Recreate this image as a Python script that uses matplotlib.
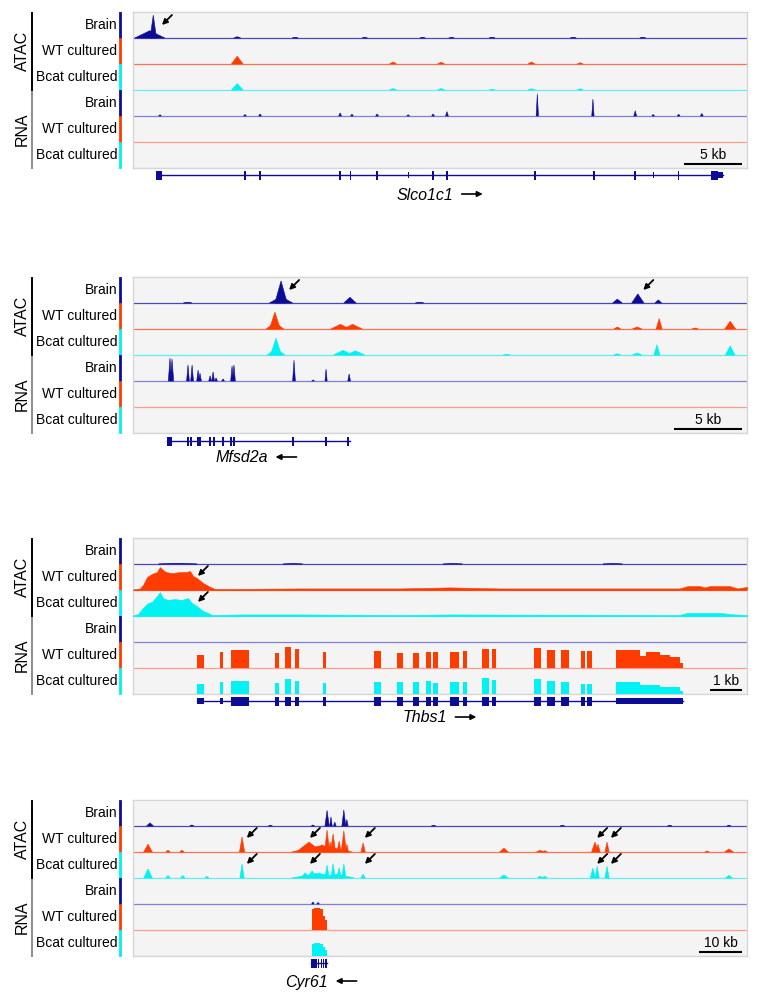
import numpy as np
import matplotlib
matplotlib.use("Agg")
import matplotlib.pyplot as plt
from matplotlib.lines import Line2D
from matplotlib.patches import Rectangle

plt.rcParams['font.family'] = ['Liberation Sans', 'DejaVu Sans']

W, H = 760, 1000

NAVY = '#0c0c96'
RED = '#ff3c00'
CYAN = '#00f2f2'
TRACK_COLORS = [NAVY, RED, CYAN, NAVY, RED, CYAN]
BASE_COLORS = ['#4848b8', '#ff7050', '#60eeee', '#8080dc', '#ff9c88', '#9cf2f2']
TRACK_NAMES = ['Brain', 'WT cultured', 'Bcat cultured', 'Brain', 'WT cultured', 'Bcat cultured']

# peaks are (centre kb, height in track units, half width kb)

# ---- Slco1c1 ----
SLCO_SPAN = 53.0
SLCO_ATAC_BRAIN = [(1.45, 0.28, 1.3), (1.75, 0.88, 0.28), (9.0, 0.05, 0.3), (14.0, 0.02, 0.25),
                   (20.0, 0.03, 0.25), (25.0, 0.03, 0.25), (27.5, 0.03, 0.25), (31.0, 0.02, 0.25),
                   (38.0, 0.02, 0.25), (44.0, 0.02, 0.25)]
SLCO_ATAC_WT = [(9.0, 0.3, 0.5), (22.45, 0.08, 0.3), (26.6, 0.07, 0.3), (34.4, 0.08, 0.3), (38.6, 0.05, 0.25)]
SLCO_ATAC_BCAT = [(9.0, 0.25, 0.5), (22.45, 0.06, 0.3), (26.6, 0.06, 0.3), (31.0, 0.03, 0.25),
                  (34.4, 0.05, 0.3), (38.6, 0.05, 0.25)]
SLCO_RNA_BRAIN = [(2.33, 0.05, 0.12), (9.67, 0.06, 0.12), (10.97, 0.08, 0.12), (17.88, 0.12, 0.12),
                  (18.9, 0.07, 0.12), (21.07, 0.08, 0.12), (23.75, 0.05, 0.12), (25.9, 0.08, 0.12),
                  (27.1, 0.17, 0.12), (34.9, 0.85, 0.1), (39.7, 0.65, 0.1), (43.35, 0.2, 0.12),
                  (44.9, 0.06, 0.12), (47.1, 0.07, 0.12), (49.1, 0.1, 0.12)]
SLCO_GENE = (2.07, 50.9)
SLCO_EXONS = [(1.95, 2.5), (9.6, 9.75), (10.9, 11.05), (17.8, 17.95), (18.7, 18.85), (21.0, 21.15),
              (25.82, 25.97), (27.02, 27.17), (34.62, 34.77), (39.7, 39.85), (43.28, 43.43),
              (47.02, 47.17), (49.9, 50.5)]
SLCO_UTR = [(23.7, 23.8), (44.85, 44.95), (50.5, 50.9)]
SLCO_ARROWS = [(2.5, 0, 0.5)]

# ---- Mfsd2a ----
MFSD_SPAN = 45.0
MFSD_ATAC_BRAIN = [(4.0, 0.02, 0.3), (10.85, 0.25, 0.85), (10.85, 0.85, 0.45), (15.9, 0.22, 0.45),
                   (21.0, 0.02, 0.3), (35.5, 0.15, 0.35), (37.0, 0.35, 0.45), (38.5, 0.12, 0.25)]
MFSD_ATAC_WT = [(10.4, 0.25, 0.65), (10.4, 0.65, 0.4), (15.2, 0.18, 0.7), (16.1, 0.18, 0.7),
                (35.5, 0.08, 0.25), (36.95, 0.08, 0.35), (38.56, 0.4, 0.22), (41.2, 0.04, 0.25),
                (43.77, 0.3, 0.4)]
MFSD_ATAC_BCAT = [(10.48, 0.25, 0.65), (10.48, 0.65, 0.4), (15.4, 0.18, 0.7), (16.3, 0.16, 0.7),
                  (27.4, 0.03, 0.25), (35.5, 0.05, 0.25), (36.95, 0.08, 0.35), (38.4, 0.4, 0.22),
                  (43.77, 0.35, 0.35)]
MFSD_RNA_BRAIN = [(2.71, 0.88, 0.12), (2.86, 0.85, 0.12), (4.03, 0.62, 0.1), (4.33, 0.62, 0.1),
                  (4.77, 0.42, 0.1), (4.91, 0.3, 0.1), (5.65, 0.2, 0.1), (5.87, 0.35, 0.1),
                  (6.09, 0.12, 0.1), (6.6, 0.08, 0.1), (7.26, 0.58, 0.1), (7.4, 0.62, 0.1),
                  (11.8, 0.8, 0.1), (13.2, 0.04, 0.1), (14.15, 0.46, 0.08), (15.84, 0.27, 0.1)]
MFSD_GENE = (2.49, 15.9)
MFSD_EXONS = [(2.49, 2.86), (3.97, 4.09), (4.19, 4.31), (4.71, 4.83), (4.85, 4.97), (5.59, 5.71),
              (5.88, 6.0), (6.54, 6.66), (7.12, 7.24), (7.34, 7.46), (11.67, 11.79), (14.09, 14.21),
              (15.7, 15.82)]
MFSD_UTR = []
MFSD_ARROWS = [(11.44, 0, 0.5), (37.4, 0, 0.5)]

# ---- Thbs1 ----
THBS_SPAN = 19.2
THBS_ATAC_BRAIN = [(1.4, 0.015, 0.6), (5.0, 0.01, 0.3), (10.0, 0.01, 0.3), (15.0, 0.01, 0.3)]
THBS_ATAC_WT_X = [0, 0.22, 0.31, 0.44, 0.59, 0.75, 0.84, 0.94, 1.03, 1.22, 1.47, 1.66, 1.78, 1.88,
                  2.0, 2.19, 2.41, 2.56, 3.03, 5.22, 8.34, 9.91, 11.47, 14.59, 17.09, 17.34, 17.72,
                  17.88, 18.03, 18.66, 18.91, 19.2]
THBS_ATAC_WT_Y = [0.02, 0.06, 0.19, 0.5, 0.62, 0.69, 0.88, 0.77, 0.69, 0.65, 0.69, 0.69, 0.73, 0.54,
                  0.46, 0.27, 0.12, 0.04, 0.04, 0.06, 0.06, 0.1, 0.06, 0.06, 0.06, 0.15, 0.15,
                  0.1, 0.15, 0.15, 0.06, 0.12]
THBS_ATAC_BCAT_X = [0, 0.16, 0.31, 0.47, 0.59, 0.75, 0.84, 0.94, 1.09, 1.31, 1.53, 1.72, 1.84, 2.0,
                    2.19, 2.34, 2.47, 3.4, 5.22, 8.34, 9.91, 17.09, 17.34, 17.72, 18.34, 18.81, 19.2]
THBS_ATAC_BCAT_Y = [0.02, 0.08, 0.31, 0.5, 0.54, 0.77, 0.92, 0.69, 0.62, 0.65, 0.62, 0.69, 0.5, 0.38,
                    0.19, 0.12, 0.04, 0.06, 0.06, 0.04, 0.06, 0.04, 0.12, 0.12, 0.12, 0.06, 0.04]
THBS_BLOCK_START = [2.0, 2.72, 3.06, 4.44, 4.75, 5.06, 5.94, 7.53, 8.25, 8.75, 9.16, 9.38, 9.91,
                    10.31, 10.91, 11.22, 12.53, 12.94, 13.38, 14.0, 14.19, 15.09, 15.84, 16.03,
                    16.47, 16.78, 17.09]
THBS_BLOCK_END = [2.22, 2.81, 3.63, 4.56, 4.94, 5.19, 6.03, 7.75, 8.44, 8.94, 9.31, 9.53, 10.19,
                  10.44, 11.13, 11.34, 12.75, 13.19, 13.63, 14.13, 14.34, 15.84, 16.03, 16.47,
                  16.78, 17.09, 17.19]
THBS_RNA_WT_H = [0.5, 0.62, 0.69, 0.58, 0.81, 0.73, 0.62, 0.65, 0.58, 0.58, 0.62, 0.62, 0.62, 0.65,
                 0.73, 0.73, 0.77, 0.69, 0.69, 0.65, 0.65, 0.69, 0.46, 0.62, 0.5, 0.42, 0.19]
THBS_RNA_BCAT_H = [0.38, 0.46, 0.5, 0.42, 0.58, 0.5, 0.42, 0.46, 0.46, 0.46, 0.5, 0.42, 0.46, 0.46,
                   0.62, 0.54, 0.58, 0.5, 0.46, 0.38, 0.38, 0.46, 0.35, 0.35, 0.27, 0.27, 0.12]
THBS_GENE = (2.0, 17.19)
THBS_EXONS = [(3.06, 3.63), (4.44, 4.56), (4.75, 4.94), (5.06, 5.19), (5.94, 6.03), (7.53, 7.75),
              (8.25, 8.44), (8.75, 8.94), (9.16, 9.31), (9.38, 9.53), (9.91, 10.19), (10.31, 10.44),
              (10.91, 11.13), (11.22, 11.34), (12.53, 12.75), (12.94, 13.19), (13.38, 13.63),
              (14.0, 14.13), (14.19, 14.34)]
THBS_UTR = [(2.0, 2.22), (2.72, 2.81), (15.09, 17.19)]
THBS_ARROWS = [(2.03, 1, 0.54), (2.03, 2, 0.54)]

# ---- Cyr61 ----
CYR_SPAN = 143.0
CYR_ATAC_BRAIN = [(3.96, 0.12, 0.8), (13.7, 0.04, 0.5), (32.0, 0.03, 0.5), (41.9, 0.04, 0.4),
                  (45.2, 0.6, 0.5), (46.1, 0.35, 0.3), (47.0, 0.15, 0.3), (49.1, 0.62, 0.45),
                  (49.8, 0.25, 0.3), (70.0, 0.02, 0.5), (100.0, 0.02, 0.5), (125.0, 0.02, 0.5),
                  (138.8, 0.03, 0.5)]
CYR_ATAC_WT = [(3.5, 0.3, 1.0), (8.15, 0.07, 0.5), (11.4, 0.07, 0.5), (25.4, 0.58, 0.6),
               (44.0, 0.25, 7.0), (41.0, 0.38, 3.0), (44.0, 0.28, 1.0), (45.2, 0.85, 0.6),
               (45.9, 0.4, 0.4), (46.6, 0.7, 0.6), (48.0, 0.42, 0.5), (49.1, 0.82, 0.6),
               (49.8, 0.3, 0.4), (53.6, 0.35, 0.5), (86.4, 0.15, 1.0), (94.8, 0.07, 0.8),
               (95.9, 0.05, 0.6), (107.6, 0.38, 0.8), (108.3, 0.3, 0.5), (110.4, 0.38, 0.5),
               (133.7, 0.04, 0.5), (138.8, 0.12, 1.0)]
CYR_ATAC_BCAT = [(3.5, 0.35, 1.0), (8.15, 0.1, 0.5), (11.6, 0.1, 0.5), (17.2, 0.06, 0.5),
                 (25.4, 0.54, 0.5), (43.0, 0.18, 6.0), (47.5, 0.15, 4.0), (40.1, 0.2, 1.0),
                 (41.7, 0.28, 1.0), (43.5, 0.2, 0.8), (45.2, 0.5, 0.5), (46.6, 0.55, 0.5),
                 (48.0, 0.4, 0.5), (49.1, 0.55, 0.5), (53.6, 0.15, 0.5), (86.4, 0.12, 1.0),
                 (94.8, 0.07, 0.6), (95.9, 0.07, 0.6), (107.1, 0.38, 0.6), (108.1, 0.45, 0.5),
                 (110.4, 0.45, 0.5), (138.8, 0.1, 0.8)]
CYR_RNA_BRAIN = [(41.9, 0.08, 0.3), (43.1, 0.06, 0.3)]
CYR_BLOCK_START = [41.6, 42.2, 42.9, 43.5, 44.2, 44.7]
CYR_BLOCK_END = [42.2, 42.9, 43.5, 44.2, 44.7, 45.2]
CYR_RNA_WT_H = [0.8, 0.85, 0.85, 0.8, 0.55, 0.4]
CYR_RNA_BCAT_H = [0.45, 0.5, 0.5, 0.45, 0.35, 0.25]
CYR_GENE = (41.5, 45.2)
CYR_EXONS = [(41.5, 42.9), (43.1, 43.4), (43.8, 44.1), (44.3, 44.6), (44.8, 45.1)]
CYR_UTR = []
CYR_ARROWS = [(26.5, 1, 0.54), (41.2, 1, 0.54), (54.0, 1, 0.54), (108.1, 1, 0.54), (111.3, 1, 0.54),
              (26.5, 2, 0.54), (41.2, 2, 0.54), (54.0, 2, 0.54), (108.1, 2, 0.54), (111.3, 2, 0.54)]

GENE_NAMES = ['Slco1c1', 'Mfsd2a', 'Thbs1', 'Cyr61']
GENE_STRAND = [1, -1, 1, -1]
SCALE_KB = [5, 5, 1, 10]

# layout in pixels
BOX_X0, BOX_X1 = 133, 747
TRACK_H = 26
PANEL_TOPS = [12, 277, 538, 800]
GENE_GAP = [7, 8, 7, 7]
NAME_POS = [(397, 195), (215, 458), (403, 718), (285, 982)]


def fig_rect(x, y, w, h):
    return [x / W, 1 - (y + h) / H, w / W, h / H]


def fx(x):
    return x / W


def fy(y):
    return 1 - y / H


def draw_peaks(ax, peaks, base, color):
    for c, h, w in peaks:
        ax.fill([c - w, c, c + w], [base, base + h, base], color=color, lw=0.4, zorder=3)


def draw_track(ax, k, track):
    base = 5 - k
    kind = track[0]
    if kind == 'peaks':
        draw_peaks(ax, track[1], base, TRACK_COLORS[k])
    elif kind == 'profile':
        ax.fill_between(track[1], base, base + np.asarray(track[2]), color=TRACK_COLORS[k],
                        lw=0.4, zorder=3)
    elif kind == 'blocks':
        starts, ends, heights = track[1], track[2], track[3]
        ax.bar(starts, heights, width=np.subtract(ends, starts), bottom=base, align='edge',
               color=TRACK_COLORS[k], lw=0, zorder=3)


def draw_gene(fig, top, gap, span, gene, exons, utr):
    y = top + 6 * TRACK_H + gap
    gax = fig.add_axes(fig_rect(BOX_X0, y - 10, BOX_X1 - BOX_X0, 20))
    gax.set_xlim(0, span)
    gax.set_ylim(10, -10)
    gax.axis('off')
    gax.plot(gene, [0, 0], color=NAVY, lw=1.0)
    for s, e in exons:
        gax.add_patch(Rectangle((s, -4.5), e - s, 9, color=NAVY, lw=0))
    for s, e in utr:
        gax.add_patch(Rectangle((s, -3), e - s, 6, color=NAVY, lw=0))


def draw_panel(fig, p, spec):
    top = PANEL_TOPS[p]
    span = spec['span']
    ax = fig.add_axes(fig_rect(BOX_X0, top, BOX_X1 - BOX_X0, 6 * TRACK_H))
    ax.set_facecolor('#f4f4f4')
    ax.set_xlim(0, span)
    ax.set_ylim(0, 6)
    ax.set_xticks([])
    ax.set_yticks([])
    for s in ax.spines.values():
        s.set_color('#d6d6d6')
        s.set_linewidth(1.0)

    for k in range(6):
        ax.axhline(5 - k, color=BASE_COLORS[k], lw=0.9, zorder=2)
        draw_track(ax, k, spec['tracks'][k])

    for x, k, h in spec['arrows']:
        ax.annotate('', xy=(x, 5 - k + h), xytext=(10, 10), textcoords='offset pixels',
                    arrowprops=dict(arrowstyle='-|>', color='black', lw=1.3,
                                    mutation_scale=8, shrinkA=0, shrinkB=0), zorder=5)

    # scale bar
    x1 = span * (1 - 5 / (BOX_X1 - BOX_X0))
    x0 = x1 - SCALE_KB[p]
    ax.plot([x0, x1], [0.15, 0.15], color='black', lw=1.5, zorder=5, solid_capstyle='butt')
    ax.text((x0 + x1) / 2, 0.24, f'{SCALE_KB[p]} kb', ha='center', va='bottom', fontsize=10)

    draw_gene(fig, top, GENE_GAP[p], span, spec['gene'], spec['exons'], spec['utr'])

    # gene name with strand arrow
    nx, ny = NAME_POS[p]
    t = fig.text(fx(nx), fy(ny), GENE_NAMES[p], ha='left', va='center', fontsize=11.5,
                 style='italic')
    fig.canvas.draw()
    bb = t.get_window_extent()
    ax0 = bb.x1 + 8
    ay = H - ny + 1
    if GENE_STRAND[p] > 0:
        xy, xyt = (ax0 + 21, ay), (ax0, ay)
    else:
        xy, xyt = (ax0, ay), (ax0 + 21, ay)
    fig.add_artist(matplotlib.text.Annotation(
        '', xy=xy, xytext=xyt, xycoords='figure pixels', textcoords='figure pixels',
        arrowprops=dict(arrowstyle='-|>', color='black', lw=1.2, mutation_scale=8,
                        shrinkA=0, shrinkB=0)))

    # left labels
    for k in range(6):
        yt = top + k * TRACK_H
        fig.text(fx(117), fy(yt + 13), TRACK_NAMES[k], ha='right', va='center', fontsize=10)
        fig.add_artist(Line2D([fx(120), fx(120)], [fy(yt + 1), fy(yt + 25)],
                              color=TRACK_COLORS[k], lw=2, transform=fig.transFigure))
    fig.add_artist(Line2D([fx(32), fx(32)], [fy(top + 1), fy(top + 78)], color='black',
                          lw=1.4, transform=fig.transFigure))
    fig.add_artist(Line2D([fx(32), fx(32)], [fy(top + 80), fy(top + 156)], color='#8c8c8c',
                          lw=1.4, transform=fig.transFigure))
    fig.text(fx(22), fy(top + 39), 'ATAC', rotation=90, ha='center', va='center', fontsize=11.5)
    fig.text(fx(22), fy(top + 117), 'RNA', rotation=90, ha='center', va='center', fontsize=11.5)


def main():
    fig = plt.figure(figsize=(W / 100, H / 100), dpi=100)

    panels = [
        dict(span=SLCO_SPAN, tracks=[('peaks', SLCO_ATAC_BRAIN), ('peaks', SLCO_ATAC_WT),
                                     ('peaks', SLCO_ATAC_BCAT), ('peaks', SLCO_RNA_BRAIN),
                                     ('peaks', []), ('peaks', [])],
             gene=SLCO_GENE, exons=SLCO_EXONS, utr=SLCO_UTR, arrows=SLCO_ARROWS),
        dict(span=MFSD_SPAN, tracks=[('peaks', MFSD_ATAC_BRAIN), ('peaks', MFSD_ATAC_WT),
                                     ('peaks', MFSD_ATAC_BCAT), ('peaks', MFSD_RNA_BRAIN),
                                     ('peaks', []), ('peaks', [])],
             gene=MFSD_GENE, exons=MFSD_EXONS, utr=MFSD_UTR, arrows=MFSD_ARROWS),
        dict(span=THBS_SPAN, tracks=[('peaks', THBS_ATAC_BRAIN),
                                     ('profile', THBS_ATAC_WT_X, THBS_ATAC_WT_Y),
                                     ('profile', THBS_ATAC_BCAT_X, THBS_ATAC_BCAT_Y),
                                     ('peaks', []),
                                     ('blocks', THBS_BLOCK_START, THBS_BLOCK_END, THBS_RNA_WT_H),
                                     ('blocks', THBS_BLOCK_START, THBS_BLOCK_END, THBS_RNA_BCAT_H)],
             gene=THBS_GENE, exons=THBS_EXONS, utr=THBS_UTR, arrows=THBS_ARROWS),
        dict(span=CYR_SPAN, tracks=[('peaks', CYR_ATAC_BRAIN), ('peaks', CYR_ATAC_WT),
                                    ('peaks', CYR_ATAC_BCAT), ('peaks', CYR_RNA_BRAIN),
                                    ('blocks', CYR_BLOCK_START, CYR_BLOCK_END, CYR_RNA_WT_H),
                                    ('blocks', CYR_BLOCK_START, CYR_BLOCK_END, CYR_RNA_BCAT_H)],
             gene=CYR_GENE, exons=CYR_EXONS, utr=CYR_UTR, arrows=CYR_ARROWS),
    ]

    for p, spec in enumerate(panels):
        draw_panel(fig, p, spec)

    fig.savefig('out.png', dpi=100)


if __name__ == '__main__':
    main()
